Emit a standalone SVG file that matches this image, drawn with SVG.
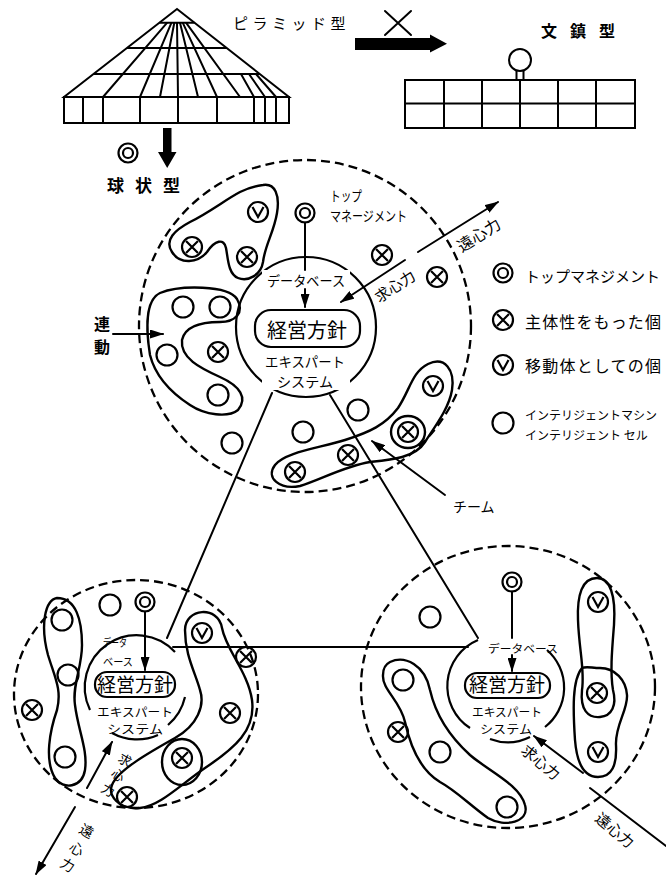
<svg xmlns="http://www.w3.org/2000/svg" width="666" height="877" viewBox="0 0 666 877">
<style>
  .ln{fill:none;stroke:#000;stroke-width:2;stroke-linecap:round;stroke-linejoin:round}
  .fine{fill:none;stroke:#000;stroke-width:2}
  .dash{fill:none;stroke:#000;stroke-width:2.3;stroke-dasharray:9 5}
  .blob{fill:none;stroke:#000;stroke-width:2.4;stroke-linejoin:round}
  .hub{fill:none;stroke:#000;stroke-width:2.2}
  .sym{fill:none;stroke:#000;stroke-width:2.2}
  .solid{fill:#000;stroke:none}
  text{font-family:"Noto Sans CJK JP","Noto Sans",sans-serif;fill:#000}
  .ttl{font-size:16px;font-weight:700}
  .lg{font-size:16px}
  .sm{font-size:13px}
  .md{font-size:14px}
  .pol{font-size:20px}
  .frc{font-size:15px}
</style>
<defs>
  <marker id="ah" viewBox="0 0 14 9" refX="13" refY="4.5" markerWidth="14" markerHeight="9" markerUnits="userSpaceOnUse" orient="auto">
    <path d="M0,0 L14,4.5 L0,9 Z"/>
  </marker>
  <!-- top management -->
  <g id="dbl" class="sym"><circle r="9.5"/><circle r="5"/></g>
  <!-- autonomous individual -->
  <g id="cross" class="sym"><circle r="10"/><path d="M-6,-6 L6,6 M6,-6 L-6,6"/></g>
  <!-- mobile individual -->
  <g id="vee" class="sym"><circle r="10"/><path d="M-5.5,-5 L0,5 L5.5,-5"/></g>
  <!-- intelligent machine / cell -->
  <g id="ring" class="sym"><circle r="10.5"/></g>
</defs>
<rect width="666" height="877" fill="#fff"/>

<!-- pyramid type -->
<g id="pyramid" class="fine">
  <path d="M177,9 L64,97 L289,97 Z"/>
  <path d="M159.5,22.7 H194.5 M127,48 H227 M93.5,74 H260"/>
  <rect x="64" y="97" width="225" height="26"/>
  <path d="M83,97 V123 M103,97 V123 M140,97 V123 M178,97 V123 M217,97 V123 M254,97 V123 M265,97 V123 M276,97 V123"/>
  <path d="M167.2,22.7 L103,97 M171.5,22.7 L140,97 M174.3,22.7 L160,97 M177,22.7 L178,97 M180,22.7 L198,97 M182.7,22.7 L217,97 M186,22.7 L240,97 M241,74 L254,97 M249,74 L265,97 M256,74 L276,97"/>
</g>
<text x="233" y="29" style="font-size:15px;letter-spacing:4.5px">ピラミッド型</text>

<!-- transition arrow -->
<g id="shift">
  <path class="solid" d="M355,38 H430 V34.5 L447,43.8 L430,52.5 V50 H355 Z"/>
  <path class="ln" d="M385,11 L411,35 M411,11 L385,35"/>
</g>

<!-- paperweight type -->
<g id="paperweight" class="fine">
  <rect x="405" y="80" width="230" height="48"/>
  <path d="M405,103.5 H635 M444,80 V128 M482,80 V128 M520,80 V128 M558,80 V128 M596,80 V128"/>
  <circle cx="520" cy="60" r="11"/>
  <path d="M516.5,71 V80 M523.5,71 V80"/>
</g>
<text x="541" y="37" class="ttl" style="letter-spacing:13px">文鎮型</text>

<!-- spherical type marker -->
<g id="sphere-mark">
  <use href="#dbl" x="128" y="153"/>
  <path class="solid" d="M163,128 H171.5 V152 H176.5 L167.2,168 L158,152 H163 Z"/>
</g>
<text x="107" y="192" class="ttl" style="font-size:17px;letter-spacing:11px">球状型</text>

<!-- legend -->
<g id="legend">
  <use href="#dbl" x="503" y="273"/>
  <text x="525" y="282" style="font-size:15px">トップマネジメント</text>
  <use href="#cross" x="503" y="320"/>
  <text x="525" y="328" class="lg" textLength="136" lengthAdjust="spacing">主体性をもった個</text>
  <use href="#vee" x="503" y="365"/>
  <text x="525" y="372" class="lg" textLength="136" lengthAdjust="spacing">移動体としての個</text>
  <use href="#ring" x="503" y="423"/>
  <text x="525" y="420" style="font-size:12px">インテリジェントマシン</text>
  <text x="525" y="440" style="font-size:12px">インテリジェント セル</text>
</g>

<!-- connectors between the three units -->
<g id="connectors" class="ln">
  <path d="M272,393 L167,638"/>
  <path d="M330,395 L478,638"/>
  <path d="M173,647 H468"/>
</g>

<!-- upper unit -->
<g id="unit-top">
  <circle class="dash" cx="305" cy="326" r="166"/>
  <circle class="hub" cx="306" cy="327" r="70"/>
  <rect class="hub" x="255" y="310" width="105" height="37" rx="16" fill="#fff"/>
  <text x="307" y="338" class="pol" text-anchor="middle">経営方針</text>
  <rect x="262" y="270" width="88" height="18" fill="#fff"/>
  <text x="306" y="286" class="md" text-anchor="middle" textLength="78" lengthAdjust="spacingAndGlyphs">データベース</text>
  <rect x="262" y="352" width="88" height="38" fill="#fff"/>
  <text x="305" y="367" class="md" text-anchor="middle" textLength="80" lengthAdjust="spacingAndGlyphs">エキスパート</text>
  <text x="305" y="387" class="md" text-anchor="middle" textLength="56" lengthAdjust="spacingAndGlyphs">システム</text>
  <use href="#dbl" x="305" y="213"/>
  <path class="ln" d="M305,222.5 V270"/>
  <path class="ln" d="M305,289 V307" marker-end="url(#ah)"/>
  <text x="330" y="201" class="md" textLength="32" lengthAdjust="spacingAndGlyphs">トップ</text>
  <text x="330" y="221" class="md" textLength="77" lengthAdjust="spacingAndGlyphs">マネージメント</text>

  <path class="blob" d="M263,185 C275,183 280,195 277,213 C274,232 265,245 263,262 C261,275 248,282 238,278 C228,274 228,258 226,248 C224,238 215,240 207,252 C198,263 180,265 172,252 C164,240 175,230 190,222 C210,212 225,200 240,192 C248,188 256,186 263,185 Z"/>
  <use href="#cross" x="192" y="247"/>
  <use href="#vee" x="258" y="212"/>
  <use href="#cross" x="247" y="257"/>
  <use href="#cross" x="382" y="255"/>
  <use href="#cross" x="437" y="277"/>

  <path class="blob" d="M160,293 C180,285 228,285 237,299 C245,313 235,322 220,322 C200,322 185,326 182,340 C180,358 200,368 220,377 C240,386 248,398 238,410 C228,418 205,415 190,405 C170,392 155,375 150,355 C146,330 145,300 160,293 Z"/>
  <use href="#ring" x="183" y="307"/>
  <use href="#ring" x="220" y="307"/>
  <use href="#ring" x="167" y="355"/>
  <use href="#cross" x="218" y="352"/>
  <use href="#ring" x="218" y="395"/>
  <use href="#ring" x="232" y="443"/>
  <use href="#ring" x="303" y="432"/>
  <use href="#ring" x="358" y="410"/>

  <path class="blob" d="M275,465 C285,452 320,448 345,440 C370,432 385,425 398,408 C410,390 412,372 428,364 C445,356 455,370 452,390 C449,408 436,425 425,442 C415,458 390,460 370,462 C345,466 320,480 300,486 C280,490 265,478 275,465 Z"/>
  <ellipse class="blob" cx="408" cy="432" rx="17" ry="16"/>
  <use href="#cross" x="295" y="472"/>
  <use href="#cross" x="348" y="455"/>
  <use href="#cross" x="408" y="432"/>
  <use href="#vee" x="433" y="386"/>

  <path class="ln" d="M405,260 L341,302" marker-end="url(#ah)"/>
  <text class="frc" transform="translate(398,291) rotate(-33)" text-anchor="middle">求心力</text>
  <path class="ln" d="M418,252 L498,202" marker-end="url(#ah)"/>
  <text class="frc" transform="translate(482,240) rotate(-32)" text-anchor="middle" style="font-size:16px">遠心力</text>

  <path class="ln" d="M113,334 H163" marker-end="url(#ah)"/>
  <text x="94" y="330" class="ttl">連</text>
  <text x="94" y="353" class="ttl">動</text>

  <path class="ln" d="M445,495 L372,441" marker-end="url(#ah)"/>
  <text x="453" y="512" class="md">チーム</text>
</g>

<!-- lower left unit -->
<g id="unit-left">
  <ellipse class="dash" cx="136" cy="694" rx="122" ry="114"/>
  <path class="hub" d="M90,710 A52,52 0 0 1 175,652"/>
  <path class="hub" d="M185,697 A52,52 0 0 1 168,725"/>
  <path class="hub" d="M158,735 A52,52 0 0 1 112,733"/>
  <rect class="hub" x="95" y="672" width="80" height="25" rx="12"/>
  <text x="135" y="692" class="pol" text-anchor="middle" style="font-size:19px">経営方針</text>
  <text x="103" y="647" style="font-size:11px" textLength="24" lengthAdjust="spacingAndGlyphs">データ</text>
  <text x="103" y="666" style="font-size:11px" textLength="30" lengthAdjust="spacingAndGlyphs">ベース</text>
  <text x="135" y="717" style="font-size:12px" text-anchor="middle" textLength="76" lengthAdjust="spacingAndGlyphs">エキスパート</text>
  <text x="135" y="734" style="font-size:12px" text-anchor="middle" textLength="56" lengthAdjust="spacingAndGlyphs">システム</text>
  <use href="#dbl" x="145" y="602"/>
  <path class="ln" d="M145,611.5 V670" marker-end="url(#ah)"/>
  <use href="#ring" x="110" y="605"/>

  <path class="blob" d="M57,598 C45,600 40,625 48,655 C55,678 62,690 57,710 C50,730 44,760 55,778 C63,790 82,788 85,770 C88,750 78,730 75,705 C72,685 82,668 82,645 C82,620 76,598 57,598 Z"/>
  <use href="#ring" x="62" y="620"/>
  <use href="#ring" x="68" y="675"/>
  <use href="#ring" x="65" y="757"/>
  <use href="#cross" x="32" y="710"/>

  <path class="blob" d="M185,630 C185,608 218,605 222,628 C226,650 248,672 252,700 C256,730 235,748 205,768 C180,785 160,806 140,808 C118,810 108,795 112,785 C118,770 150,752 175,738 C198,725 205,705 200,690 C195,672 185,655 185,630 Z"/>
  <ellipse class="blob" cx="182" cy="762" rx="20" ry="23"/>
  <use href="#vee" x="202" y="633"/>
  <use href="#cross" x="246" y="657"/>
  <use href="#cross" x="230" y="713"/>
  <use href="#cross" x="182" y="758"/>
  <use href="#cross" x="127" y="797"/>

  <path class="ln" d="M87,788 L112,742" marker-end="url(#ah)"/>
  <text class="sm" transform="translate(117,761) rotate(30)">求</text>
  <text class="sm" transform="translate(110,776) rotate(30)">心</text>
  <text class="sm" transform="translate(100,791) rotate(30)">力</text>

  <path class="ln" d="M75,807 L36,874" marker-end="url(#ah)"/>
  <text class="md" transform="translate(78,832) rotate(30)">遠</text>
  <text class="md" transform="translate(68,850) rotate(30)">心</text>
  <text class="md" transform="translate(59,866) rotate(30)">力</text>
</g>

<!-- lower right unit -->
<g id="unit-right">
  <ellipse class="dash" cx="508" cy="687" rx="147" ry="141"/>
  <path class="hub" d="M478,640 A50,50 0 0 0 470,728"/>
  <path class="hub" d="M547,650 A50,50 0 0 1 545,727"/>
  <path class="hub" d="M530,737 A50,50 0 0 1 490,739"/>
  <rect class="hub" x="465" y="673" width="85" height="25" rx="12"/>
  <text x="507" y="692" class="pol" text-anchor="middle" style="font-size:19px">経営方針</text>
  <text x="523" y="653" style="font-size:11px" text-anchor="middle" textLength="70" lengthAdjust="spacingAndGlyphs">データベース</text>
  <text x="507" y="717" style="font-size:12px" text-anchor="middle" textLength="70" lengthAdjust="spacingAndGlyphs">エキスパート</text>
  <text x="506" y="734" style="font-size:12px" text-anchor="middle" textLength="52" lengthAdjust="spacingAndGlyphs">システム</text>
  <use href="#dbl" x="512" y="582"/>
  <path class="ln" d="M512,591.5 V638"/>
  <path class="ln" d="M512,655 V671" marker-end="url(#ah)"/>
  <use href="#ring" x="430" y="617"/>

  <path class="blob" d="M390,662 C405,655 425,665 430,690 C435,712 448,735 470,755 C490,772 520,785 525,805 C530,822 505,828 488,818 C470,805 455,790 440,782 C420,770 410,745 405,722 C400,700 382,690 383,675 C383,668 386,664 390,662 Z"/>
  <use href="#ring" x="403" y="680"/>
  <use href="#ring" x="440" y="752"/>
  <use href="#ring" x="507" y="807"/>
  <use href="#cross" x="398" y="732"/>

  <path class="blob" d="M597,578 C582,578 577,595 578,620 C579,650 585,670 582,690 C580,710 588,718 600,717 C612,716 617,705 613,690 C610,672 612,650 614,625 C616,595 610,578 597,578 Z"/>
  <path class="blob" d="M582,668 C572,680 573,710 575,740 C577,765 585,777 598,777 C612,777 617,765 616,745 C615,725 628,710 627,695 C626,680 615,668 600,668 C592,668 586,666 582,668 Z"/>
  <use href="#vee" x="598" y="602"/>
  <use href="#cross" x="597" y="693"/>
  <use href="#vee" x="598" y="752"/>

  <path class="ln" d="M583,773 L534,736" marker-end="url(#ah)"/>
  <path class="ln" d="M590,788 L666,846"/>
  <text class="frc" transform="translate(520,752) rotate(40)">求心力</text>
  <text class="frc" transform="translate(594,820) rotate(40)">遠心力</text>
</g>
</svg>
